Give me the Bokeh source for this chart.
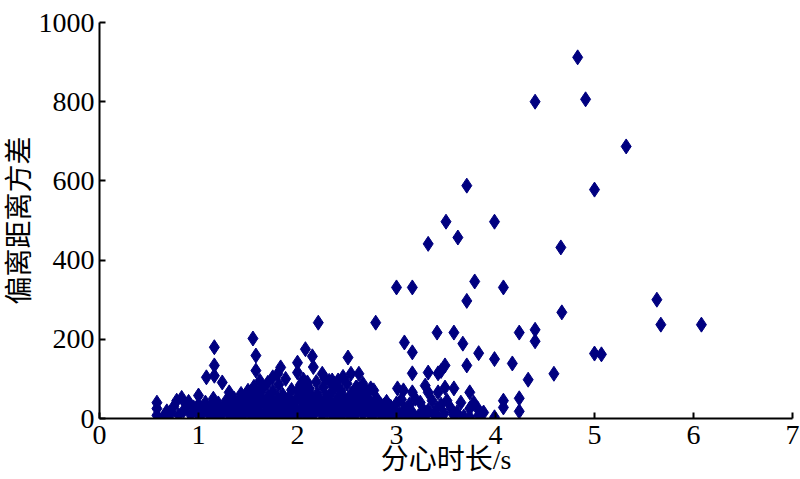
from bokeh.plotting import figure
from bokeh.models import FixedTicker, Range1d
from bokeh.embed import file_html
from bokeh.resources import INLINE

# ---- data ----
high_x = [4.83, 4.40, 4.91, 5.32, 5.00, 3.71, 3.50, 3.99, 3.62, 3.32, 4.66, 3.79, 3.00, 3.16, 4.08,
          3.71, 5.63, 4.67, 5.67, 6.08, 2.21, 2.79, 3.41, 3.58, 4.24, 4.40, 4.40, 3.08, 3.67, 2.08,
          3.16, 3.83, 5.00, 5.07, 3.99, 4.17, 4.59, 4.33, 1.16, 1.55, 1.58, 2.15, 2.51, 2.00]
high_y = [912, 800, 806, 687, 578, 588, 497, 497, 457, 441, 432, 346, 331, 331, 331,
          297, 300, 268, 237, 237, 242, 242, 217, 217, 217, 224, 195, 192, 189, 175,
          167, 165, 164, 162, 150, 139, 113, 98, 180, 202, 159, 157, 154, 141]

mid_x = [1.16, 1.16, 1.08, 1.24, 1.31, 1.58, 2.16, 2.00, 1.83, 1.75, 1.80, 2.25, 2.10, 2.54, 2.62,
         2.35, 2.41, 2.00, 2.59, 2.69, 2.77, 3.16, 3.32, 3.42, 3.49, 3.71, 3.45, 2.74, 3.01, 3.07,
         3.29, 3.32, 3.49, 3.58, 3.74, 3.16, 3.42, 1.62, 1.70, 1.88, 2.06, 2.28, 2.46, 2.66,
         4.08, 4.08, 4.24, 4.24, 3.99]
mid_y = [134, 108, 104, 91, 66, 121, 130, 116, 129, 104, 113, 113, 91, 113, 113,
         96, 96, 71, 78, 71, 71, 114, 116, 114, 134, 134, 120, 76, 76, 71,
         83, 66, 78, 76, 66, 66, 66, 95, 90, 100, 98, 100, 105, 88,
         45, 28, 51, 18, 3]

base_x = [0.58, 0.58, 0.58, 0.65, 0.68, 0.72, 0.75, 0.78, 0.80, 0.83, 0.85, 0.88, 0.90, 0.92, 0.95,
          0.98, 1.00, 1.00, 1.02, 1.05, 1.07, 1.10, 1.12, 1.15, 1.15, 1.18, 1.20, 1.22, 1.25, 1.28,
          1.30, 1.32, 1.35, 1.36, 1.38, 1.40, 1.42, 1.43, 1.45, 1.47, 1.48, 1.50, 1.50, 1.52, 1.53,
          1.55, 1.56, 1.57, 1.58, 1.60, 1.61, 1.62, 1.64, 1.65, 1.66, 1.68, 1.70, 1.70, 1.72, 1.73,
          1.75, 1.76, 1.78, 1.80, 1.81, 1.82, 1.84, 1.85, 1.87, 1.88, 1.90, 1.91, 1.92, 1.94, 1.95,
          1.97, 1.98, 2.00, 2.01, 2.03, 2.04, 2.05, 2.07, 2.08, 2.10, 2.11, 2.12, 2.14, 2.15, 2.16,
          2.18, 2.19, 2.20, 2.22, 2.23, 2.25, 2.26, 2.27, 2.29, 2.30, 2.32, 2.33, 2.34, 2.36, 2.37,
          2.38, 2.40, 2.41, 2.43, 2.44, 2.45, 2.47, 2.48, 2.50, 2.51, 2.52, 2.54, 2.55, 2.57, 2.58,
          2.60, 2.61, 2.63, 2.64, 2.66, 2.67, 2.69, 2.70, 2.72, 2.74, 2.76, 2.78, 2.80, 2.82, 2.84,
          2.86, 2.88, 2.90, 2.92, 2.94, 2.96, 2.98, 3.00, 3.03, 3.05, 3.08, 3.11, 3.13, 3.16, 3.19,
          3.22, 3.24, 3.27, 3.30, 3.32, 3.36, 3.38, 3.41, 3.41, 3.45, 3.48, 3.51, 3.55, 3.58, 3.61,
          3.65, 3.68, 3.74, 3.74, 3.78, 3.82, 3.83, 3.88, 2.80, 2.87, 2.94]
base_y = [8, 25, 40, 5, 18, 12, 30, 45, 8, 52, 20, 35, 42, 10, 28,
          15, 58, 35, 5, 22, 40, 12, 30, 50, 8, 20, 38, 5, 25, 45,
          12, 30, 8, 50, 20, 40, 5, 62, 28, 15, 50, 70, 35, 10, 55,
          25, 80, 45, 5, 62, 30, 15, 48, 75, 8, 35, 55, 20, 5, 40,
          68, 28, 12, 50, 85, 30, 8, 60, 40, 18, 5, 52, 30, 72, 12,
          42, 25, 5, 55, 85, 20, 38, 65, 10, 45, 28, 75, 5, 55, 35,
          15, 92, 62, 25, 45, 8, 78, 35, 55, 18, 95, 40, 65, 5, 28,
          82, 50, 15, 35, 70, 8, 52, 25, 88, 40, 12, 62, 30, 5, 48,
          78, 20, 38, 60, 10, 45, 28, 55, 15, 40, 5, 30, 50, 18, 35,
          8, 25, 42, 12, 30, 5, 20, 38, 10, 48, 25, 3, 35, 15, 50,
          5, 40, 22, 8, 20, 45, 10, 25, 3, 35, 12, 45, 25, 8, 15,
          40, 5, 25, 3, 40, 25, 8, 15, 45, 33, 25]

x_ticks = [0, 1, 2, 3, 4, 5, 6, 7]
y_ticks = [0, 200, 400, 600, 800, 1000]

xs = high_x + mid_x + base_x
ys = high_y + mid_y + base_y

NUM_FONT = "Liberation Serif"
LBL_FONT = "'Liberation Serif', 'Noto Sans CJK SC'"

p = figure(width=800, height=479, output_backend="svg", toolbar_location=None,
           x_range=Range1d(0, 7), y_range=Range1d(0, 1000),
           min_border_left=99, min_border_right=8, min_border_top=22, min_border_bottom=61)
p.outline_line_color = None
p.xgrid.visible = False
p.ygrid.visible = False
p.background_fill_color = "white"

p.scatter(xs, ys, marker="diamond", size=15, fill_color="#000080", line_color="#000080", line_width=1)

for ax in (p.xaxis[0], p.yaxis[0]):
    ax.axis_line_width = 2
    ax.axis_line_color = "black"
    ax.major_tick_line_width = 2
    ax.major_tick_line_color = "black"
    ax.major_tick_in = 6
    ax.major_tick_out = 0
    ax.minor_tick_line_color = None
    ax.major_label_text_font = NUM_FONT
    ax.major_label_text_font_size = "28px"
    ax.major_label_text_color = "black"
    ax.axis_label_text_font = LBL_FONT
    ax.axis_label_text_font_size = "28px"
    ax.axis_label_text_font_style = "normal"
    ax.axis_label_text_color = "black"

p.xaxis.ticker = FixedTicker(ticks=x_ticks)
p.yaxis.ticker = FixedTicker(ticks=y_ticks)
p.xaxis.axis_label = "分心时长/s"
p.yaxis.axis_label = "偏离距离方差"
p.xaxis.major_label_standoff = 7
p.xaxis.axis_label_standoff = -3
p.yaxis.major_label_standoff = 5
p.yaxis.axis_label_standoff = 1

open("out.html", "w").write(file_html(p, INLINE))
